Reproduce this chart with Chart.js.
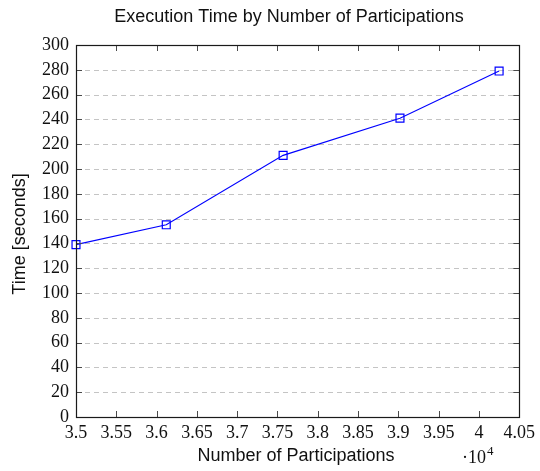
<!DOCTYPE html>
<html>
<head>
<meta charset="utf-8">
<script src="https://cdn.jsdelivr.net/npm/chart.js@4/dist/chart.umd.min.js"></script>
<style>
  html, body { margin: 0; padding: 0; background: #fff; }
  #wrap { width: 540px; height: 471px; }
</style>
</head>
<body>
<div id="wrap"><canvas id="c" width="540" height="471"></canvas></div>
<script>
// Number of participations and the measured execution time
const participations = [35000, 36120, 37570, 39020, 40250];
const timeSeconds = [139, 155, 211, 241, 279];

// Axis ticks (x labels shown in units of 10^4)
const xTickValues = [35000, 35500, 36000, 36500, 37000, 37500, 38000, 38500, 39000, 39500, 40000, 40500];
const xTickLabels = ['3.5', '3.55', '3.6', '3.65', '3.7', '3.75', '3.8', '3.85', '3.9', '3.95', '4', '4.05'];
const yTickStep = 20;

const titleText = 'Execution Time by Number of Participations';
const xTitleText = 'Number of Participations';
const yTitleText = 'Time [seconds]';

const SERIF = '"Liberation Serif", "Times New Roman", serif';
const SANS = '"Liberation Sans", Arial, Helvetica, sans-serif';

// Frame, dashed grid, inward ticks and titles
const decorations = {
  id: 'decorations',
  beforeDatasetsDraw(chart) {
    const { ctx, chartArea: a, scales } = chart;
    const ys = scales.y;
    ctx.save();
    ctx.strokeStyle = '#c4c4c4';
    ctx.lineWidth = 1;
    ctx.setLineDash([5, 4]);
    ys.ticks.forEach(t => {
      if (t.value <= ys.min || t.value >= ys.max) return;
      const py = Math.round(ys.getPixelForValue(t.value)) + 0.5;
      ctx.beginPath();
      ctx.moveTo(a.left, py);
      ctx.lineTo(a.right, py);
      ctx.stroke();
    });
    ctx.restore();
  },
  afterDatasetsDraw(chart) {
    const { ctx, chartArea: a, scales } = chart;
    const xs = scales.x, ys = scales.y;
    const tl = 6;
    ctx.save();
    ctx.setLineDash([]);
    // inward tick marks on all four sides
    ctx.strokeStyle = '#4a4a4a';
    ctx.lineWidth = 1;
    ctx.beginPath();
    xs.ticks.forEach(t => {
      if (t.value <= xs.min || t.value >= xs.max) return;
      const px = Math.round(xs.getPixelForValue(t.value)) + 0.5;
      ctx.moveTo(px, a.bottom); ctx.lineTo(px, a.bottom - tl);
      ctx.moveTo(px, a.top); ctx.lineTo(px, a.top + tl);
    });
    ys.ticks.forEach(t => {
      if (t.value <= ys.min || t.value >= ys.max) return;
      const py = Math.round(ys.getPixelForValue(t.value)) + 0.5;
      ctx.moveTo(a.left, py); ctx.lineTo(a.left + tl, py);
      ctx.moveTo(a.right, py); ctx.lineTo(a.right - tl, py);
    });
    ctx.stroke();
    // frame
    ctx.strokeStyle = '#1a1a1a';
    ctx.lineWidth = 1.2;
    ctx.strokeRect(Math.round(a.left) + 0.5, Math.round(a.top) + 0.5,
                   Math.round(a.right - a.left), Math.round(a.bottom - a.top));

    // titles
    ctx.fillStyle = '#111';
    ctx.textBaseline = 'middle';
    ctx.textAlign = 'center';
    ctx.font = '18px ' + SANS;
    ctx.fillText(titleText, 289, 17);
    ctx.fillText(xTitleText, 296, 456);
    ctx.save();
    ctx.translate(20, 234);
    ctx.rotate(-Math.PI / 2);
    ctx.fillText(yTitleText, 0, 0);
    ctx.restore();

    // exponent marker for the x axis
    ctx.textAlign = 'left';
    ctx.textBaseline = 'alphabetic';
    ctx.font = '18px ' + SERIF;
    const base = '\u00b710';
    ctx.fillText(base, 462, 463);
    const w = ctx.measureText(base).width;
    ctx.font = '13px ' + SERIF;
    ctx.fillText('4', 462 + w + 1, 455);
    ctx.restore();
  }
};

new Chart(document.getElementById('c'), {
  type: 'line',
  data: {
    datasets: [{
      data: participations.map((p, i) => ({ x: p, y: timeSeconds[i] })),
      borderColor: '#0000ff',
      borderWidth: 1.1,
      backgroundColor: 'rgba(0,0,0,0)',
      pointStyle: 'rect',
      pointRadius: 5.6,
      pointBorderWidth: 1.2,
      pointBorderColor: '#0000ff',
      pointBackgroundColor: 'rgba(0,0,0,0)',
      tension: 0,
      clip: false
    }]
  },
  options: {
    responsive: false,
    animation: false,
    devicePixelRatio: 1,
    layout: { padding: { top: 45, right: 18, left: 0, bottom: 0 } },
    plugins: {
      legend: { display: false },
      title: { display: false },
      tooltip: { enabled: false }
    },
    scales: {
      x: {
        type: 'linear',
        min: xTickValues[0],
        max: xTickValues[xTickValues.length - 1],
        afterBuildTicks(scale) {
          scale.ticks = xTickValues.map(v => ({ value: v }));
        },
        afterFit(scale) { scale.height = 54; },
        grid: { display: false, drawTicks: false },
        border: { display: false },
        ticks: {
          padding: 5,
          color: '#111',
          font: { family: SERIF, size: 18 },
          maxRotation: 0,
          autoSkip: false,
          callback(value, index) { return xTickLabels[index]; }
        }
      },
      y: {
        type: 'linear',
        min: 0,
        max: 300,
        afterFit(scale) { scale.width = 76; },
        grid: { display: false, drawTicks: false },
        border: { display: false },
        ticks: {
          stepSize: yTickStep,
          padding: 7,
          color: '#111',
          font: { family: SERIF, size: 18 },
          autoSkip: false
        }
      }
    }
  },
  plugins: [decorations]
});
</script>
</body>
</html>
